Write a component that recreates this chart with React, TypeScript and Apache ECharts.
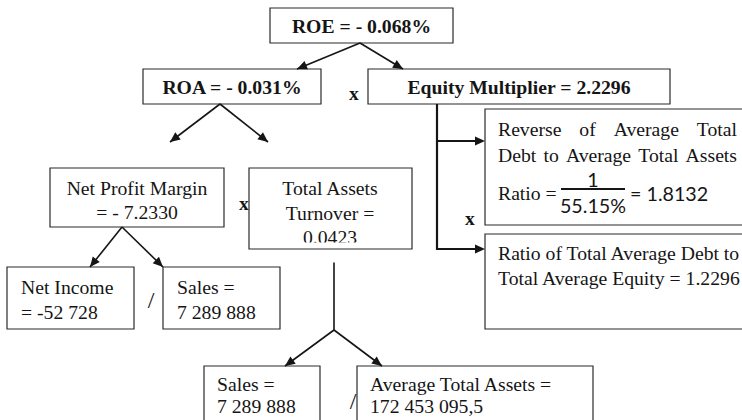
import React, { useEffect, useRef } from "react";
import * as echarts from "echarts";

// Node names and values of the DuPont decomposition
const nodeNames = [
  "ROE",
  "ROA",
  "Equity Multiplier",
  "Net Profit Margin",
  "Total Assets Turnover",
  "Net Income",
  "Sales",
  "Average Total Assets",
  "Ratio of Total Average Debt to Total Average Equity",
];
const nodeValues = [
  "- 0.068%",
  "- 0.031%",
  "2.2296",
  "- 7.2330",
  "0.0423",
  "-52 728",
  "7 289 888",
  "172 453 095,5",
  "1.2296",
];
const reverseLine1 = ["Reverse", "of", "Average", "Total"];
const reverseLine2 = ["Debt", "to", "Average", "Total", "Assets"];
const ratioNumerator = "1";
const ratioDenominator = "55.15%";
const reverseValue = "1.8132";
const operators = ["x", "x", "/", "/", "x"];

const SERIF = "Liberation Serif";
const SANS = "Lato";
const INK = "#151515";
const FS = 19.7;

function box(x: number, y: number, w: number, h: number, z = 5): any {
  return {
    type: "rect",
    z,
    shape: { x, y, width: w, height: h },
    style: { fill: "none", stroke: "#2a2a2a", lineWidth: 1.2 },
  };
}

function txt(
  x: number,
  y: number,
  text: string,
  opts: { bold?: boolean; size?: number; align?: string; family?: string } = {}
): any {
  return {
    type: "text",
    z: 3,
    x,
    y,
    style: {
      text,
      fontFamily: opts.family ?? SERIF,
      fontSize: opts.size ?? FS,
      fontWeight: opts.bold ? "bold" : "normal",
      fill: INK,
      align: opts.align ?? "left",
      verticalAlign: "middle",
    },
  };
}

let measureCtx: CanvasRenderingContext2D | null = null;
function measure(s: string): number {
  if (!measureCtx) {
    measureCtx = document.createElement("canvas").getContext("2d");
  }
  if (!measureCtx) return s.length * FS * 0.45;
  measureCtx.font = `${FS}px "${SERIF}"`;
  return measureCtx.measureText(s).width;
}

function justified(words: string[], x0: number, x1: number, y: number): any[] {
  const widths = words.map(measure);
  const total = widths.reduce((a, b) => a + b, 0);
  const gap = (x1 - x0 - total) / (words.length - 1);
  const out: any[] = [];
  let x = x0;
  words.forEach((w, i) => {
    out.push(txt(x, y, w));
    x += widths[i] + gap;
  });
  return out;
}

function line(x1: number, y1: number, x2: number, y2: number, lw = 1.6): any {
  return {
    type: "line",
    z: 6,
    shape: { x1, y1, x2, y2 },
    style: { stroke: INK, lineWidth: lw },
  };
}

function head(x1: number, y1: number, x2: number, y2: number, L = 10, W = 4.5): any {
  const dx = x2 - x1;
  const dy = y2 - y1;
  const len = Math.sqrt(dx * dx + dy * dy);
  const ux = dx / len;
  const uy = dy / len;
  const bx = x2 - ux * L;
  const by = y2 - uy * L;
  return {
    type: "polygon",
    z: 7,
    shape: {
      points: [
        [x2, y2],
        [bx - uy * W, by + ux * W],
        [bx + uy * W, by - ux * W],
      ],
    },
    style: { fill: INK },
  };
}

function arrow(x1: number, y1: number, x2: number, y2: number, lw = 1.6): any[] {
  return [line(x1, y1, x2, y2, lw), head(x1, y1, x2, y2)];
}

export default function App() {
  const ref = useRef<HTMLDivElement>(null);

  useEffect(() => {
    if (!ref.current) return;
    const chart = echarts.init(ref.current, undefined, { renderer: "svg" });

    const elements: any[] = [
      // boxes
      box(270, 8, 183, 35),
      box(143, 69, 178, 35),
      box(368, 69, 302, 35),
      box(50, 168, 174, 59),
      box(249, 168, 163, 81, 9),
      box(7, 267, 127, 62),
      box(163, 267, 117, 62),
      box(204, 366, 116, 70),
      box(357, 366, 236, 70),
      box(485, 109, 270, 116),
      box(485, 234, 270, 95),
      // cover for clipped third line of Total Assets Turnover
      {
        type: "rect",
        z: 8,
        shape: { x: 250, y: 242.5, width: 161, height: 20 },
        style: { fill: "#ffffff" },
      },

      // bold headline texts
      txt(361.5, 26, `${nodeNames[0]} = ${nodeValues[0]}`, { bold: true, align: "center" }),
      txt(232, 87, `${nodeNames[1]} = ${nodeValues[1]}`, { bold: true, align: "center" }),
      txt(519, 87, `${nodeNames[2]} = ${nodeValues[2]}`, { bold: true, align: "center" }),
      txt(354, 93, operators[0], { bold: true, align: "center" }),

      // Net Profit Margin
      txt(137, 188, nodeNames[3], { align: "center" }),
      txt(137, 212, `= ${nodeValues[3]}`, { align: "center" }),
      txt(244, 203, operators[1], { bold: true, align: "center" }),

      // Total Assets Turnover
      txt(330, 188, "Total Assets", { align: "center" }),
      txt(330, 213, "Turnover =", { align: "center" }),
      txt(330, 237, nodeValues[4], { align: "center" }),

      // Net Income / Sales
      txt(21, 287, nodeNames[5]),
      txt(21, 312, `= ${nodeValues[5]}`),
      txt(151, 300, operators[2], { size: 24, align: "center" }),
      txt(177, 287, `${nodeNames[6]} =`),
      txt(177, 312, nodeValues[6]),

      // Sales / Average Total Assets
      txt(217, 384, `${nodeNames[6]} =`),
      txt(217, 406, nodeValues[6]),
      txt(353, 401, operators[3], { size: 24, align: "center" }),
      txt(370, 384, `${nodeNames[7]} =`),
      txt(370, 406, nodeValues[7]),

      // Reverse of average total debt ratio (justified lines)
      ...justified(reverseLine1, 498, 737, 129),
      ...justified(reverseLine2, 498, 737, 155),
      txt(498, 193, "Ratio ="),
      txt(593, 179, ratioNumerator, { align: "center", family: SANS }),
      line(561, 189, 625, 189, 2),
      txt(593, 205, ratioDenominator, { align: "center", family: SANS }),
      txt(630, 193, `= ${reverseValue}`, { family: SANS }),
      txt(470, 218, operators[4], { bold: true, align: "center" }),

      // Ratio of total average debt to equity
      txt(498, 253, "Ratio of Total Average Debt to"),
      txt(498, 278, `Total Average Equity = ${nodeValues[8]}`),

      // arrows
      ...arrow(360, 43, 297, 69),
      ...arrow(360, 43, 403, 69),
      ...arrow(220, 104, 170, 142),
      ...arrow(220, 104, 268, 142),
      ...arrow(122, 227, 90, 267),
      ...arrow(122, 227, 163, 267),
      line(334, 249, 334, 330),
      ...arrow(334, 330, 285, 366),
      ...arrow(334, 330, 382, 366),
      {
        type: "polyline",
        z: 6,
        shape: { points: [[437, 104], [437, 249], [476, 249]] },
        style: { stroke: INK, lineWidth: 2.2, fill: "none" },
      },
      head(437, 249, 485, 249),
      line(437, 141, 477, 141, 2.2),
      head(437, 141, 485, 141),
    ];

    chart.setOption({
      animation: false,
      backgroundColor: "#ffffff",
      graphic: { elements },
    });

    return () => chart.dispose();
  }, []);

  return (
    <div
      ref={ref}
      style={{ position: "fixed", left: 0, top: 0, width: 742, height: 420, background: "#fff" }}
    />
  );
}
